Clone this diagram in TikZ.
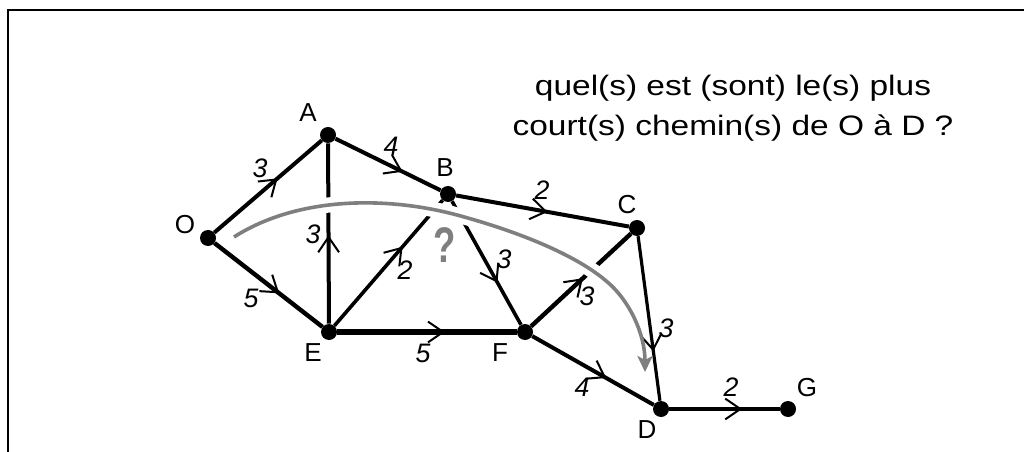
\documentclass[tikz,border=0pt]{standalone}
\usepackage{fontspec}
\setmainfont{Liberation Sans}
\usetikzlibrary{arrows.meta, decorations.markings}
\definecolor{croute}{HTML}{7F7F7F}
\tikzset{
  vertex/.style={circle, fill=black, inner sep=0pt, minimum size=0.4cm},
  vname/.style={font=\fontsize{18.5}{22}\selectfont, inner sep=0pt},
  wlabel/.style={font=\fontsize{19}{22}\selectfont\itshape, inner sep=0pt},
  road/.style={draw, line width=0.1cm, postaction={decorate},
    decoration={markings, mark=at position #1 with
      {\arrow[line width=0.05cm]{Straight Barb[length=0.38cm, width=0.52cm]}}}},
  road/.default=0.55,
  halo/.style={draw=white, line width=0.38cm},
  route/.style={draw=croute, line width=0.09cm, -{Stealth[length=0.4cm, width=0.38cm, inset=0.1cm]}},
}
\begin{document}
\begin{tikzpicture}[x=0.025cm, y=-0.025cm]
  \useasboundingbox (0,0) rectangle (1024,452);
  % frame (only top and left sides show)
  \draw[line width=0.05cm] (8,452) -- (8,10) -- (1024,10);

  % vertices
  \node[vertex] (O) at (208,238) {};
  \node[vertex] (A) at (328,135) {};
  \node[vertex] (B) at (448,194) {};
  \node[vertex] (C) at (637,228) {};
  \node[vertex] (E) at (329,332) {};
  \node[vertex] (F) at (525,332) {};
  \node[vertex] (D) at (661,409) {};
  \node[vertex] (G) at (788,409) {};

  % arcs
  \draw[road=0.59] (O) -- (A);
  \draw[road=0.64] (A) -- (B);
  \draw[road=0.53] (B) -- (C);
  \draw[road=0.49] (E) -- (A);
  \draw[road=0.63, line width=0.09cm] (E) -- (B);
  \draw[road=0.66, line width=0.09cm] (B) -- (F);
  \draw[road=0.52, line width=0.11cm] (F) -- (C);
  \draw[road=0.70, line width=0.08cm] (C) -- (D);
  \draw[road=0.60, line width=0.11cm] (O) -- (E);
  \draw[road=0.60, line width=0.15cm] (E) -- (F);
  \draw[road=0.61] (F) -- (D);
  \draw[road=0.66] (D) -- (G);

  % grey route, cut out of the arcs it crosses
  \coordinate (r0) at (234,237);
  \coordinate (r1) at (457,215);
  \coordinate (r2) at (605,280);
  \coordinate (r3) at (645,372);
  \path[halo] (r0) .. controls (300,195) and (390,197) .. (r1)
    .. controls (520,232) and (575,255) .. (r2);
  \draw[route] (r0) .. controls (300,195) and (390,197) .. (r1)
    .. controls (520,232) and (575,255) .. (r2)
    .. controls (630,300) and (645,335) .. (r3);
  \node[font=\fontsize{26}{30}\selectfont\bfseries, text=croute, inner sep=0pt] (qm) at (445,245) {\scalebox{1}[1.37]{?}};

  % vertex names
  \node[vname] (nO) at (185,225) {O};
  \node[vname] (nA) at (308,113) {A};
  \node[vname] (nB) at (445,168) {B};
  \node[vname] (nC) at (627,205) {C};
  \node[vname] (nE) at (313,353) {E};
  \node[vname] (nF) at (500,353) {F};
  \node[vname] (nD) at (647,430) {D};
  \node[vname] (nG) at (807,388) {G};

  % weights
  \node[wlabel] (wOA) at (260,168) {3};
  \node[wlabel] (wAB) at (391,146) {4};
  \node[wlabel] (wBC) at (542,190) {2};
  \node[wlabel] (wAE) at (313,234) {3};
  \node[wlabel] (wEB) at (405,270) {2};
  \node[wlabel] (wBF) at (504,259) {3};
  \node[wlabel] (wFC) at (587,296) {3};
  \node[wlabel] (wCD) at (666,328) {3};
  \node[wlabel] (wOE) at (251,298) {5};
  \node[wlabel] (wEF) at (423,353) {5};
  \node[wlabel] (wFD) at (582,387) {4};
  \node[wlabel] (wDG) at (731,387) {2};

  % question
  \node[font=\fontsize{20}{28.5}\selectfont, align=center, inner sep=0pt, xscale=1.19, transform shape] (ask) at (733,108)
    {quel(s) est (sont) le(s) plus\\court(s) chemin(s) de O à D ?};
\end{tikzpicture}
\end{document}
